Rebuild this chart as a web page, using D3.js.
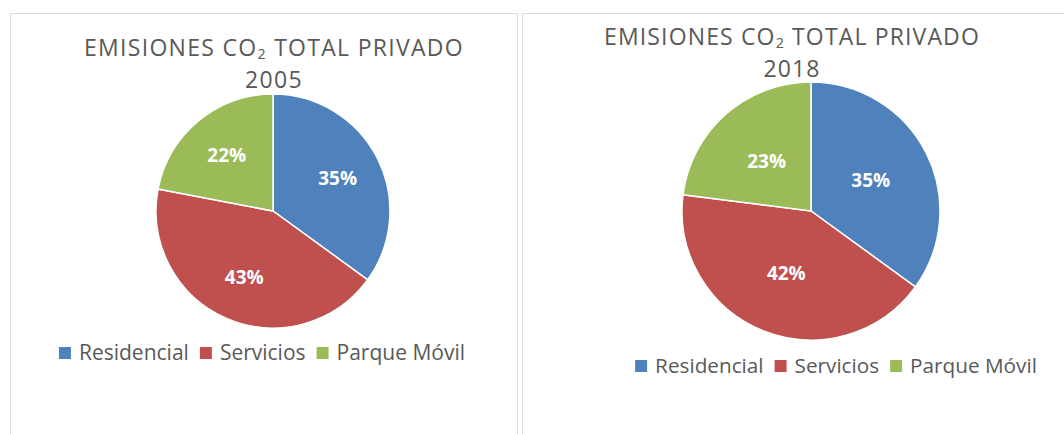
<!DOCTYPE html>
<html><head><meta charset="utf-8">
<script src="https://cdn.jsdelivr.net/npm/d3@7"></script>
<style>
body{margin:0;background:#fff}
svg{display:block}
text{font-family: "Open Sans", "Noto Sans", sans-serif}
</style></head><body>
<svg id="chart" width="1064" height="434"></svg>
<script>
// Sector names and their share of private CO2 emissions (%)
const categories = ["Residencial", "Servicios", "Parque Móvil"];
const shares2005 = [35, 43, 22];
const shares2018 = [35, 42, 23];
const years = ["2005", "2018"];
const colors = ["#4F81BD", "#C0504D", "#9BBB59"];

const svg = d3.select("#chart");

// Layout of the two side-by-side panels
const panels = [
  {year: years[0], values: shares2005, box: {x: 10.5, y: 13.5, w: 507, h: 440},
   cx: 273, cy: 211, r: 117, titleX: 274, titleY: [56, 88], titleW: 380, labelR: 0.62,
   legendCx: 262, legendY: 353, legendW: 408},
  {year: years[1], values: shares2018, box: {x: 522.5, y: 13.5, w: 560, h: 440},
   cx: 811, cy: 211, r: 129, titleX: 792, titleY: [45, 77], titleW: 376, labelR: 0.52,
   legendCx: 836, legendY: 366, legendW: 402}
];

const colorScale = d3.scaleOrdinal().domain(categories).range(colors);
const pie = d3.pie().sort(null).value(d => d.value);
const titleSize = 23;

panels.forEach(p => {
  // chart frame
  svg.append("rect")
    .attr("x", p.box.x).attr("y", p.box.y)
    .attr("width", p.box.w).attr("height", p.box.h)
    .attr("fill", "#fff").attr("stroke", "#D9D9D9").attr("stroke-width", 1);

  // title (two lines); first line tracked out to the panel's title width
  const t1 = svg.append("text")
    .attr("x", p.titleX).attr("y", p.titleY[0])
    .attr("text-anchor", "middle")
    .attr("fill", "#595959").attr("font-size", titleSize);
  t1.append("tspan").text("EMISIONES CO");
  t1.append("tspan").attr("dy", 3).attr("font-size", titleSize * 0.62).text("2");
  t1.append("tspan").attr("dy", -3).text(" TOTAL PRIVADO");
  const nChars = "EMISIONES CO2 TOTAL PRIVADO".length;
  const spacing = Math.max(0, (p.titleW - t1.node().getComputedTextLength()) / nChars);
  t1.attr("letter-spacing", spacing);

  svg.append("text")
    .attr("x", p.titleX).attr("y", p.titleY[1])
    .attr("text-anchor", "middle")
    .attr("fill", "#595959").attr("font-size", titleSize)
    .attr("letter-spacing", spacing)
    .text(p.year);

  // pie
  const data = categories.map((c, i) => ({name: c, value: p.values[i]}));
  const arcs = pie(data);
  const arc = d3.arc().innerRadius(0).outerRadius(p.r);
  const labelArc = d3.arc().innerRadius(p.r * p.labelR).outerRadius(p.r * p.labelR);

  const g = svg.append("g").attr("transform", `translate(${p.cx},${p.cy})`);
  g.selectAll("path.slice").data(arcs).join("path")
    .attr("class", "slice")
    .attr("d", arc)
    .attr("fill", d => colorScale(d.data.name))
    .attr("stroke", "#fff").attr("stroke-width", 1.5);

  g.selectAll("text.lbl").data(arcs).join("text")
    .attr("class", "lbl")
    .attr("transform", d => `translate(${labelArc.centroid(d)})`)
    .attr("text-anchor", "middle")
    .attr("dy", "0.36em")
    .attr("fill", "#fff")
    .attr("font-weight", "bold")
    .attr("font-size", 19)
    .text(d => d.data.value + "%");

  // legend, centred under the pie
  const lg = svg.append("g");
  const sw = 12, gapText = 8, gapItem = 11;
  const items = categories.map(c => {
    const item = lg.append("g");
    item.append("rect")
      .attr("x", 0).attr("y", -sw / 2)
      .attr("width", sw).attr("height", sw)
      .attr("fill", colorScale(c));
    const tx = item.append("text")
      .attr("x", sw + gapText).attr("y", 0)
      .attr("dy", "0.35em")
      .attr("fill", "#595959").attr("font-size", 20)
      .text(c);
    return {item, tx};
  });
  const textW = d3.sum(items, d => d.tx.node().getComputedTextLength());
  const fixedW = items.length * (sw + gapText) + (items.length - 1) * gapItem;
  const lfs = Math.min(21, 20 * (p.legendW - fixedW) / textW);
  let x = 0;
  items.forEach(d => {
    d.tx.attr("font-size", lfs);
    d.item.attr("transform", `translate(${x},0)`);
    x += sw + gapText + d.tx.node().getComputedTextLength() + gapItem;
  });
  const total = x - gapItem;
  lg.attr("transform", `translate(${p.legendCx - total / 2},${p.legendY})`);
});
</script>
</body></html>
